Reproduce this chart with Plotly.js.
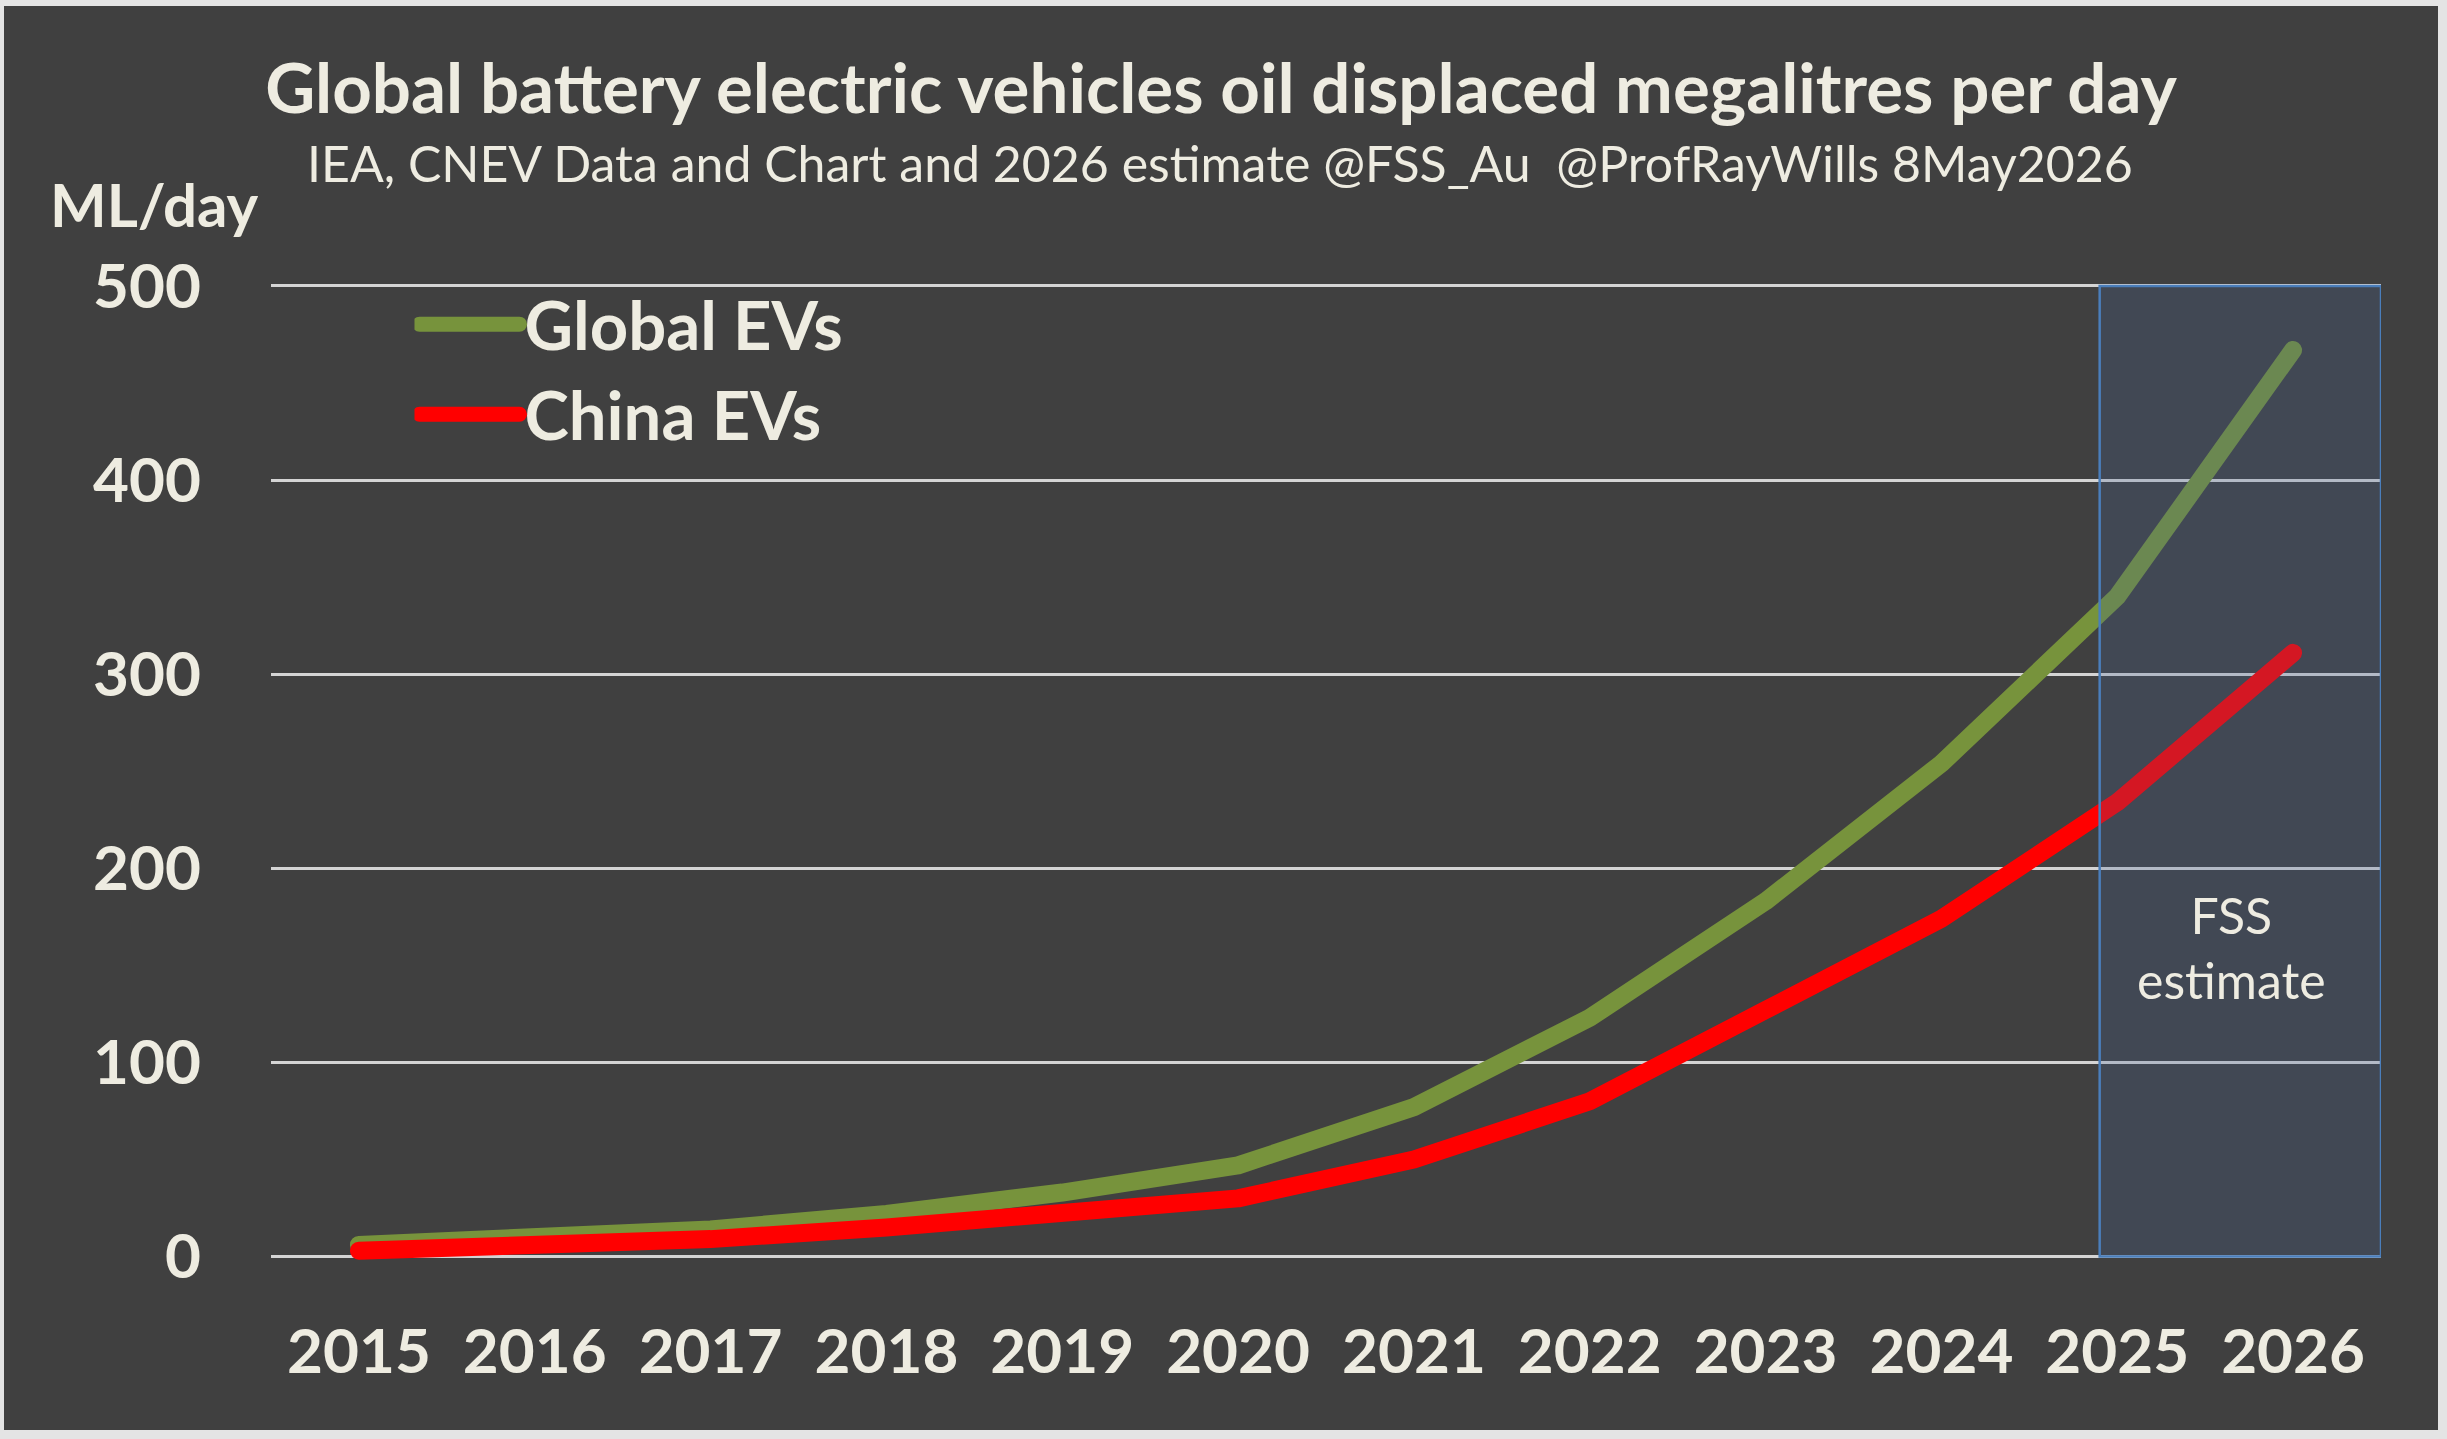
<!DOCTYPE html>
<html>
<head>
<meta charset="utf-8">
<script src="https://cdn.plot.ly/plotly-3.0.1.min.js"></script>
<style>
  html, body { margin: 0; padding: 0; background: #e4e4e4; }
  #chart { position: absolute; left: 4px; top: 6px; width: 2434px; height: 1424px; }
  .scatterlayer path.js-line { stroke-linecap: round; stroke-linejoin: round; }
  .legendlines path { stroke-linecap: round; stroke-width: 15px !important; }
</style>
</head>
<body>
<div id="chart"></div>
<script>
// Oil displaced by battery electric vehicles, megalitres per day
const years = ['2015', '2016', '2017', '2018', '2019', '2020', '2021', '2022', '2023', '2024', '2025', '2026'];
const globalEVs = [6, 9, 14, 22, 33, 47, 77, 123, 183, 254, 340, 467];
const chinaEVs = [3, 5, 9, 15, 22, 30, 50, 80, 127, 174, 234, 311];
const yTicks = [0, 100, 200, 300, 400, 500];

const cream = '#eeece1';
const font = 'Lato, "Open Sans", sans-serif';

const traces = [
  {
    x: years, y: globalEVs, type: 'scatter', mode: 'lines', name: 'Global EVs',
    line: { color: '#77933c', width: 18 }, hoverinfo: 'x+y'
  },
  {
    x: years, y: chinaEVs, type: 'scatter', mode: 'lines', name: 'China EVs',
    line: { color: '#ff0000', width: 18 }, hoverinfo: 'x+y'
  }
];

const layout = {
  width: 2434, height: 1424,
  paper_bgcolor: '#404040', plot_bgcolor: '#404040',
  margin: { l: 267, r: 57, t: 277.7, b: 154.3 },
  font: { family: font, color: cream },
  title: {
    text: '<b>Global battery electric vehicles oil displaced megalitres per day</b>',
    font: { family: font, size: 69, color: cream },
    x: 0.5, xref: 'container', xanchor: 'center',
    y: 1 - 83 / 1424, yref: 'container', yanchor: 'middle'
  },
  xaxis: {
    type: 'category', range: [-0.5, 11.5], showgrid: false, zeroline: false,
    showline: false, ticks: '', fixedrange: true,
    tickfont: { family: font, size: 62, color: cream, weight: 'bold' },
    ticklabelstandoff: 34
  },
  yaxis: {
    range: [-10, 501], tickmode: 'array', tickvals: yTicks, ticktext: yTicks.map(String),
    showgrid: true, gridcolor: '#d4d4d4', gridwidth: 3, zeroline: false,
    showline: false, ticks: '', fixedrange: true,
    tickfont: { family: font, size: 62, color: cream, weight: 'bold' },
    ticklabelstandoff: 69
  },
  showlegend: true,
  legend: {
    x: 0.068, xanchor: 'left', y: 1.01, yanchor: 'top',
    bgcolor: 'rgba(0,0,0,0)', borderwidth: 0,
    font: { family: font, size: 67, color: cream, weight: 'bold' },
    itemwidth: 100, tracegroupgap: 0
  },
  shapes: [
    {
      type: 'rect', xref: 'x', yref: 'y', x0: 9.9, x1: 11.5, y0: 0, y1: 500,
      fillcolor: 'rgba(68,99,151,0.23)', line: { color: '#4a7ebb', width: 2.5 },
      layer: 'above'
    }
  ],
  annotations: [
    {
      text: 'IEA, CNEV Data and Chart and 2026 estimate @FSS_Au&nbsp;&nbsp;@ProfRayWills 8May2026',
      xref: 'paper', yref: 'paper', x: (1216 - 267) / 2110, y: (1269.7 - 157) / 992.1,
      xanchor: 'center', yanchor: 'middle', showarrow: false,
      font: { family: font, size: 50, color: cream }
    },
    {
      text: '<b>ML/day</b>',
      xref: 'paper', yref: 'paper', x: (150.5 - 267) / 2110, y: (1269.7 - 198) / 992.1,
      xanchor: 'center', yanchor: 'middle', showarrow: false,
      font: { family: font, size: 60, color: cream }
    },
    {
      text: 'FSS<br>estimate',
      xref: 'paper', yref: 'y', x: (2227 - 267) / 2110, y: 159,
      xanchor: 'center', yanchor: 'middle', showarrow: false,
      font: { family: font, size: 50, color: cream }
    }
  ]
};

Plotly.newPlot('chart', traces, layout, { displayModeBar: false, staticPlot: true }).then(function (gd) {
  // thicker, round-capped legend swatches
  gd.querySelectorAll('.legend path').forEach(function (p) {
    if (p.classList.contains('js-line') || p.closest('.legendlines')) {
      p.style.setProperty('stroke-width', '15px', 'important');
      p.style.setProperty('stroke-linecap', 'round');
    }
  });
});
</script>
</body>
</html>
